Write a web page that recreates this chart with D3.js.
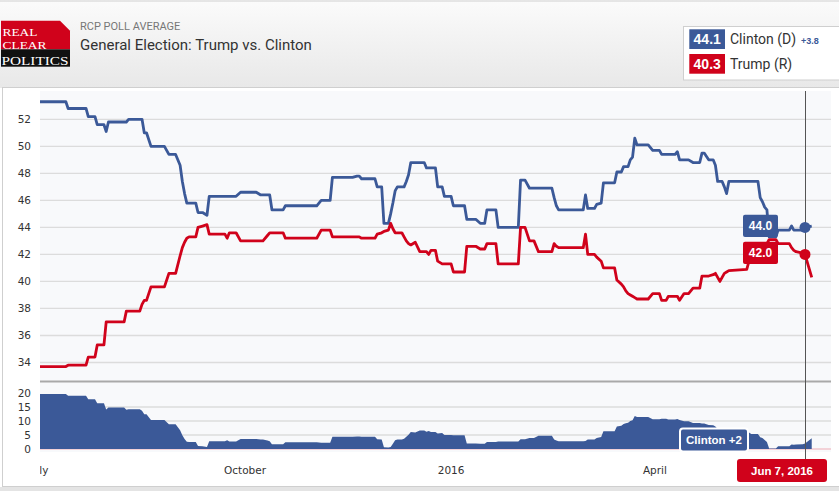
<!DOCTYPE html>
<html><head><meta charset="utf-8">
<script src="https://cdn.jsdelivr.net/npm/d3@7"></script>
<style>
html,body{margin:0;padding:0;background:#fff;overflow:hidden;}
svg{display:block;}
</style></head><body>
<svg id="chart" width="839" height="491"></svg>
<script>
// ---------- DATA ----------
const subtitle = "RCP POLL AVERAGE";
const title = "General Election: Trump vs. Clinton";
const logoWords = ["REAL", "CLEAR", "POLITICS"];
const candidates = ["Clinton (D)", "Trump (R)"];
const dates = [
"2015-07-01","2015-07-13","2015-07-14","2015-07-22","2015-07-23","2015-07-26","2015-07-27","2015-07-30","2015-07-31","2015-08-01",
"2015-08-08","2015-08-09","2015-08-10","2015-08-15","2015-08-16","2015-08-17","2015-08-18","2015-08-20","2015-08-26","2015-08-28",
"2015-08-31","2015-09-02","2015-09-03","2015-09-04","2015-09-05","2015-09-06","2015-09-09","2015-09-10","2015-09-12","2015-09-14",
"2015-09-15","2015-09-22","2015-09-23","2015-09-24","2015-09-27","2015-09-29","2015-10-06","2015-10-08","2015-10-09","2015-10-11",
"2015-10-12","2015-10-13","2015-10-18","2015-10-19","2015-11-02","2015-11-04","2015-11-08","2015-11-09","2015-11-18","2015-11-20",
"2015-11-21","2015-11-22","2015-11-28","2015-11-29","2015-12-01","2015-12-02","2015-12-04","2015-12-05","2015-12-06","2015-12-07",
"2015-12-08","2015-12-10","2015-12-11","2015-12-12","2015-12-13","2015-12-14","2015-12-16","2015-12-18","2015-12-20","2015-12-21",
"2015-12-22","2015-12-23","2015-12-25","2015-12-26","2015-12-28","2015-12-29","2016-01-01","2016-01-02","2016-01-07","2016-01-08",
"2016-01-12","2016-01-14","2016-01-16","2016-01-17","2016-01-21","2016-01-22","2016-01-31","2016-02-01","2016-02-03","2016-02-05",
"2016-02-07","2016-02-09","2016-02-15","2016-02-16","2016-02-17","2016-02-18","2016-02-29","2016-03-01","2016-03-02","2016-03-05",
"2016-03-06","2016-03-08","2016-03-09","2016-03-14","2016-03-15","2016-03-17","2016-03-18","2016-03-19","2016-03-20","2016-03-21",
"2016-03-22","2016-03-23","2016-03-24","2016-03-29","2016-03-31","2016-04-03","2016-04-04","2016-04-06","2016-04-07","2016-04-10",
"2016-04-11","2016-04-12","2016-04-14","2016-04-16","2016-04-18","2016-04-21","2016-04-22","2016-04-23","2016-04-25","2016-04-27",
"2016-04-28","2016-04-29","2016-04-30","2016-05-01","2016-05-02","2016-05-03","2016-05-04","2016-05-12","2016-05-13","2016-05-14",
"2016-05-17","2016-05-18","2016-05-19","2016-05-20","2016-05-21","2016-05-22","2016-05-25","2016-05-26","2016-05-31","2016-06-01",
"2016-06-02","2016-06-03","2016-06-06","2016-06-07","2016-06-10"
];
const clinton = [
53.3,53.3,52.8,52.8,52.2,52.2,51.6,51.6,51.1,51.8,
51.8,51.8,52.0,52.0,52.0,51.0,51.0,50.0,50.0,49.4,
49.4,48.6,47.4,46.5,45.8,45.8,45.8,45.1,45.1,44.9,
46.3,46.3,46.3,46.3,46.3,46.6,46.6,46.4,46.4,46.4,
46.4,45.3,45.3,45.6,45.6,46.0,46.0,47.7,47.7,47.8,
47.8,47.6,47.6,47.0,47.0,44.3,44.3,45.0,45.8,46.7,
47.0,47.0,47.0,47.4,47.9,48.8,48.8,48.8,48.8,48.4,
48.4,48.4,48.4,47.0,47.0,46.3,46.3,45.6,45.6,44.6,
44.6,44.3,44.3,45.3,45.3,44.0,44.0,47.5,47.5,46.9,
46.9,46.9,46.9,46.2,45.6,45.3,45.3,46.4,45.4,45.4,
45.7,45.8,47.3,47.3,48.1,48.1,48.5,48.5,48.5,49.0,
49.2,50.6,50.1,50.1,49.7,49.7,49.4,49.4,49.4,49.4,
49.6,49.0,49.0,49.0,48.8,48.8,49.5,49.5,49.0,49.0,
48.6,47.4,47.4,47.4,47.0,46.5,47.4,47.4,47.4,47.4,
47.4,46.2,45.9,45.5,45.3,43.3,43.3,43.8,43.8,44.1,
43.8,43.8,43.8,44.0,44.1
];
const trump = [
33.7,33.7,33.8,33.8,34.4,34.4,35.3,35.3,37.0,37.0,
37.0,37.8,37.8,37.8,38.3,38.6,38.6,39.6,39.6,40.6,
40.6,41.9,42.5,42.9,43.2,43.3,43.3,44.0,44.1,44.2,
43.5,43.5,43.2,43.6,43.6,43.0,43.0,43.0,43.0,43.4,
43.6,43.6,43.6,43.2,43.2,43.8,43.8,43.3,43.3,43.3,
43.3,43.2,43.2,43.5,43.6,43.7,43.8,44.3,43.9,43.6,
43.6,43.6,43.3,43.0,42.8,42.7,42.9,42.2,42.2,42.2,
42.0,42.3,42.3,41.5,41.3,41.3,41.3,40.7,40.7,42.6,
42.6,42.4,42.4,42.8,42.8,41.3,41.3,44.0,44.0,43.0,
43.0,42.2,42.2,42.8,42.6,42.5,42.5,43.5,42.0,42.0,
41.8,41.5,41.0,41.0,40.1,39.8,39.6,39.3,39.1,39.0,
38.9,38.8,38.7,38.7,39.1,39.1,38.6,38.6,38.9,38.9,
38.9,38.6,39.1,39.1,39.5,39.5,40.4,40.4,40.4,40.5,
40.6,40.3,40.0,40.3,40.6,40.7,40.8,40.9,41.5,42.0,
42.0,42.0,42.0,42.3,42.8,43.1,43.1,42.8,42.8,42.5,
42.3,42.2,42.1,42.0,40.3
];
const mainTicks = [34,36,38,40,42,44,46,48,50,52];
const spreadTicks = [0,5,10,15,20];
const xTickDates = ["2015-07-01","2015-10-01","2016-01-01","2016-04-01"];
const xTickLabels = ["July","October","2016","April"];
const xDomain = ["2015-07-01","2016-06-07"];
const hoverDate = "2016-06-07";

// ---------- STYLE ----------
const BLUE = "#3b5998", RED = "#d0021b";
const W = 839, H = 491;
const P = {l:40, r:831, top:91, mainBottom:381, sTop:382, sBottom:452};

const parse = d3.utcParse("%Y-%m-%d");
const data = dates.map((d,i)=>({date:parse(d), c:clinton[i], t:trump[i], s:+(clinton[i]-trump[i]).toFixed(1)}));

const x = d3.scaleUtc().domain(xDomain.map(parse)).range([39, 805]);
const y = d3.scaleLinear().domain([34,52]).range([362.5,119.3]);
const ys = d3.scaleLinear().domain([0,20]).range([449,393]);

const svg = d3.select("#chart");
const defs = svg.append("defs");
const grad = defs.append("linearGradient").attr("id","hdr").attr("x1",0).attr("y1",0).attr("x2",0).attr("y2",1);
grad.append("stop").attr("offset","0%").attr("stop-color","#fbfbfb");
grad.append("stop").attr("offset","100%").attr("stop-color","#e8e8e8");
defs.append("clipPath").attr("id","clipMain").append("rect")
  .attr("x",P.l).attr("y",P.top-3).attr("width",P.r-P.l).attr("height",P.mainBottom-P.top+3);
defs.append("clipPath").attr("id","clipSpread").append("rect")
  .attr("x",P.l).attr("y",P.sTop).attr("width",P.r-P.l).attr("height",P.sBottom-P.sTop);
defs.append("clipPath").attr("id","clipAxis").append("rect")
  .attr("x",P.l).attr("y",455).attr("width",P.r-P.l).attr("height",30);

// header
svg.append("rect").attr("x",0).attr("y",0).attr("width",W).attr("height",88).attr("fill","url(#hdr)");
svg.append("line").attr("x1",0).attr("x2",W).attr("y1",1).attr("y2",1).attr("stroke","#d0d0d0");
// panel
svg.append("rect").attr("x",2.5).attr("y",87.5).attr("width",W).attr("height",399)
  .attr("fill","#fff").attr("stroke","#cfcfcf");
svg.append("rect").attr("x",0).attr("y",487).attr("width",W).attr("height",4).attr("fill","#e4e4e4");

// logo
const logo = svg.append("g");
logo.append("path").attr("d","M1,20.7 L60,20.7 L70,30.7 L70,49.3 L1,49.3 Z").attr("fill","#d0021b");
logo.append("rect").attr("x",1).attr("y",49.3).attr("width",69).attr("height",17.4).attr("fill","#111");
const serif = "'Liberation Serif','Times New Roman',serif";
const logoPos = [[2.5,36.2,11,35],[2.5,48.8,11,44],[1.5,64.6,13.5,67]];
logoWords.forEach((w,i)=>{
  const [lx,ly,fs,tl] = logoPos[i];
  logo.append("text").attr("x",lx).attr("y",ly).attr("fill","#fff").style("font-family",serif)
    .style("font-size",fs+"px").attr("textLength",tl).attr("lengthAdjust","spacingAndGlyphs").text(w);
});

svg.append("text").attr("x",80).attr("y",30).text(subtitle).attr("fill","#777")
  .style("font-family","Roboto, sans-serif").style("font-size","11px");
svg.append("text").attr("x",80).attr("y",49.5).text(title).attr("fill","#333")
  .style("font-family","Roboto, sans-serif").style("font-size","15px");

// legend
const last = data[data.length-1];
const lg = svg.append("g");
lg.append("rect").attr("x",683.5).attr("y",26.5).attr("width",170).attr("height",53.5)
  .attr("fill","#fff").attr("stroke","#cfcfcf");
const legVals = [last.c, last.t], legCols = [BLUE, RED];
candidates.forEach((name,i)=>{
  const by = 29.3 + i*24.7;
  lg.append("rect").attr("x",689.3).attr("y",by).attr("width",35.7).attr("height",19.7).attr("fill",legCols[i]);
  lg.append("text").attr("x",707.2).attr("y",by+15).attr("text-anchor","middle").text(legVals[i].toFixed(1))
    .attr("fill","#fff").style("font-family","'Liberation Sans',Arial,sans-serif").style("font-weight","bold").style("font-size","14px");
  lg.append("text").attr("x",730).attr("y",by+15).text(name).attr("fill","#333")
    .style("font-family","Roboto, sans-serif").style("font-size","14px");
});
lg.append("text").attr("x",801).attr("y",44.3).text("+" + (last.c-last.t).toFixed(1)).attr("fill",BLUE)
  .style("font-family","'Liberation Sans',Arial,sans-serif").style("font-weight","bold").style("font-size","9px");

// plot backgrounds
svg.append("rect").attr("x",P.l).attr("y",P.top).attr("width",P.r-P.l).attr("height",P.mainBottom-P.top).attr("fill","#f8f9fb");
svg.append("rect").attr("x",P.l).attr("y",P.sTop).attr("width",P.r-P.l).attr("height",P.sBottom-P.sTop).attr("fill","#f8f9fb");

const axisFont = "'DejaVu Sans', Verdana, sans-serif";
// main grid
mainTicks.forEach(t=>{
  svg.append("line").attr("x1",P.l).attr("x2",P.r).attr("y1",y(t)).attr("y2",y(t)).attr("stroke","#dcdcdc").attr("stroke-width",1.3);
  svg.append("text").attr("x",31).attr("y",y(t)).attr("dy","0.36em").attr("text-anchor","end").text(t)
    .attr("fill","#333").style("font-family",axisFont).style("font-size","10.5px");
});
// spread grid
spreadTicks.forEach(t=>{
  if (t>0 && t<20) svg.append("line").attr("x1",P.l).attr("x2",P.r).attr("y1",ys(t)).attr("y2",ys(t)).attr("stroke","#dcdcdc").attr("stroke-width",1.3);
  svg.append("text").attr("x",31).attr("y",ys(t)).attr("dy","0.36em").attr("text-anchor","end").text(t)
    .attr("fill","#333").style("font-family",axisFont).style("font-size","10.5px");
});
svg.append("line").attr("x1",P.l).attr("x2",P.r).attr("y1",ys(0)).attr("y2",ys(0)).attr("stroke","#f2c4cc").attr("stroke-width",1.5);

// spread area
const area = d3.area().x(d=>x(d.date)).y0(ys(0)).y1(d=>ys(Math.max(0,d.s)));
svg.append("path").datum(data).attr("clip-path","url(#clipSpread)").attr("d",area).attr("fill",BLUE);

// separator
svg.append("line").attr("x1",P.l).attr("x2",P.r).attr("y1",381.5).attr("y2",381.5).attr("stroke","#a9a9a9").attr("stroke-width",2);

// lines
const gLines = svg.append("g").attr("clip-path","url(#clipMain)");
[["c",BLUE],["t",RED]].forEach(([k,col])=>{
  gLines.append("path").datum(data)
    .attr("d", d3.line().x(d=>x(d.date)).y(d=>y(d[k])))
    .attr("fill","none").attr("stroke",col).attr("stroke-width",2.8)
    .attr("stroke-linejoin","round").attr("stroke-linecap","butt");
});

// x axis labels
const gx = svg.append("g").attr("clip-path","url(#clipAxis)");
xTickDates.forEach((d,i)=>{
  gx.append("text").attr("x",x(parse(d))).attr("y",473.5).attr("text-anchor","middle").text(xTickLabels[i])
    .attr("fill","#333").style("font-family",axisFont).style("font-size","10.5px");
});

// hover
const hd = parse(hoverDate);
const hi = data.findIndex(d=>+d.date===+hd);
const hp = data[hi];
const hx = x(hd);
svg.append("line").attr("x1",hx+0.5).attr("x2",hx+0.5).attr("y1",P.top).attr("y2",462).attr("stroke","#555").attr("stroke-width",1);

const boxFont = "'Liberation Sans', Arial, sans-serif";
[[hp.c,BLUE],[hp.t,RED]].forEach(([v,col])=>{
  const cy = y(v)-1.5;
  svg.append("rect").attr("x",hx-62).attr("y",cy-11.2).attr("width",35).attr("height",22.4).attr("rx",2).attr("fill",col);
  svg.append("text").attr("x",hx-44.5).attr("y",cy).attr("dy","0.36em").attr("text-anchor","middle").text(v.toFixed(1))
    .attr("fill","#fff").style("font-family",boxFont).style("font-weight","bold").style("font-size","12px");
});
[[hp.c,BLUE],[hp.t,RED]].forEach(([v,col])=>{
  svg.append("circle").attr("cx",hx).attr("cy",y(v)).attr("r",5.5).attr("fill",col);
});

// spread label
const sp = hp.c - hp.t;
svg.append("rect").attr("x",hx-125).attr("y",428.5).attr("width",68).attr("height",23).attr("rx",3)
  .attr("fill",BLUE).attr("stroke","#fff").attr("stroke-width",2);
svg.append("text").attr("x",hx-91).attr("y",440).attr("dy","0.36em").attr("text-anchor","middle")
  .text((sp>=0?"Clinton +":"Trump +") + d3.format("~r")(Math.abs(+sp.toFixed(1))))
  .attr("fill","#fff").style("font-family",boxFont).style("font-weight","bold").style("font-size","11.5px");

// date label
const dw = 90;
const dx = Math.min(hx - dw/2, P.r - 4 - dw);
svg.append("rect").attr("x",dx).attr("y",459).attr("width",dw).attr("height",23).attr("rx",3).attr("fill",RED);
svg.append("text").attr("x",dx+dw/2).attr("y",470.5).attr("dy","0.36em").attr("text-anchor","middle")
  .text(d3.utcFormat("%b %-d, %Y")(hd))
  .attr("fill","#fff").style("font-family",boxFont).style("font-weight","bold").style("font-size","11.5px");
</script>
</body></html>
